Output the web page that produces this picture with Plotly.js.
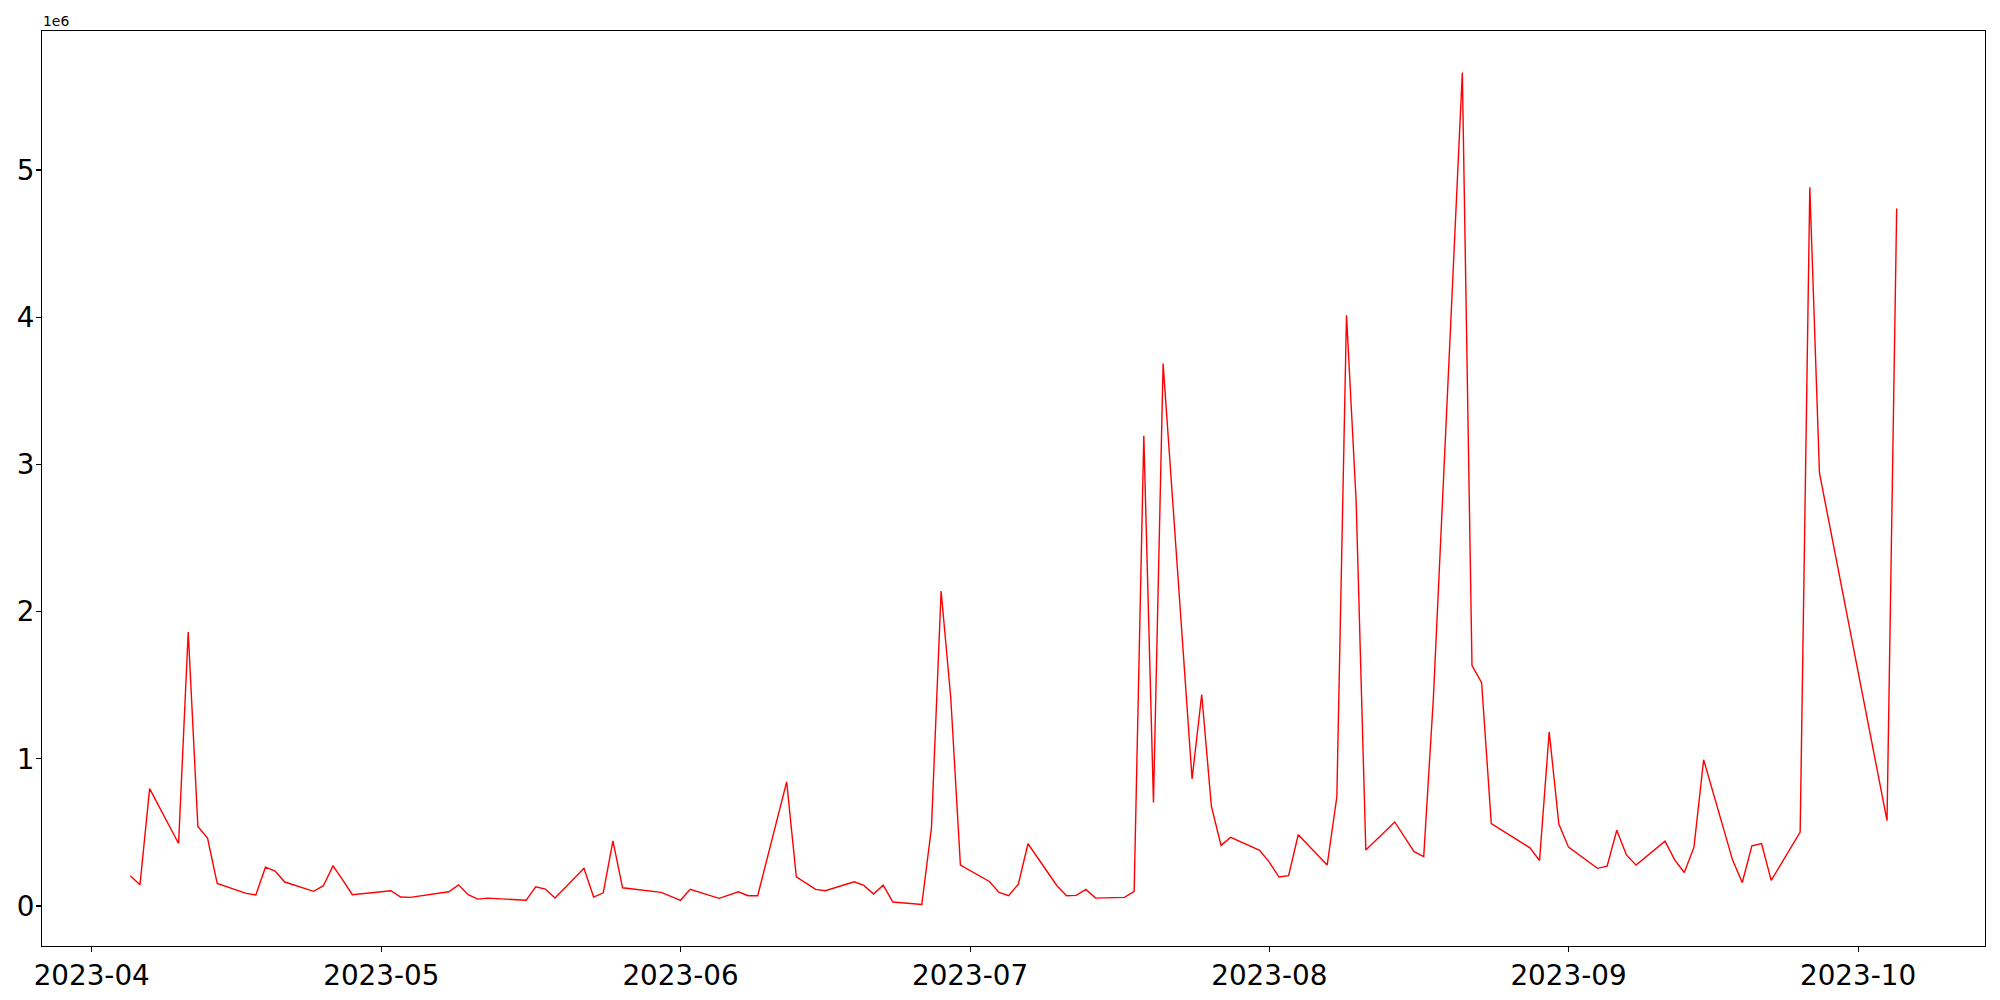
<!DOCTYPE html>
<html>
<head>
<meta charset="utf-8">
<script src="https://cdn.plot.ly/plotly-3.0.1.min.js"></script>
<style>html,body{margin:0;padding:0;background:#fff;}#chart{width:2000px;height:1000px;}</style>
</head>
<body>
<div id="chart"></div>
<script>
const dates = [
"2023-04-05","2023-04-06","2023-04-07","2023-04-10","2023-04-11","2023-04-12","2023-04-13","2023-04-14",
"2023-04-17","2023-04-18","2023-04-19","2023-04-20","2023-04-21","2023-04-24","2023-04-25","2023-04-26",
"2023-04-27","2023-04-28","2023-05-02","2023-05-03","2023-05-04","2023-05-08","2023-05-09","2023-05-10",
"2023-05-11","2023-05-12","2023-05-16","2023-05-17","2023-05-18","2023-05-19","2023-05-22","2023-05-23",
"2023-05-24","2023-05-25","2023-05-26","2023-05-30","2023-05-31","2023-06-01","2023-06-02","2023-06-05",
"2023-06-07","2023-06-08","2023-06-09","2023-06-12","2023-06-13","2023-06-15","2023-06-16","2023-06-19",
"2023-06-20","2023-06-21","2023-06-22","2023-06-23","2023-06-26","2023-06-27","2023-06-28","2023-06-29",
"2023-06-30","2023-07-03","2023-07-04","2023-07-05","2023-07-06","2023-07-07","2023-07-10","2023-07-11",
"2023-07-12","2023-07-13","2023-07-14","2023-07-17","2023-07-18","2023-07-19","2023-07-20","2023-07-21",
"2023-07-24","2023-07-25","2023-07-26","2023-07-27","2023-07-28","2023-07-31","2023-08-01","2023-08-02",
"2023-08-03","2023-08-04","2023-08-07","2023-08-08","2023-08-09","2023-08-10","2023-08-11","2023-08-14",
"2023-08-16","2023-08-17","2023-08-18","2023-08-21","2023-08-22","2023-08-23","2023-08-24","2023-08-28",
"2023-08-29","2023-08-30","2023-08-31","2023-09-01","2023-09-04","2023-09-05","2023-09-06","2023-09-07",
"2023-09-08","2023-09-11","2023-09-12","2023-09-13","2023-09-14","2023-09-15","2023-09-18","2023-09-19",
"2023-09-20","2023-09-21","2023-09-22","2023-09-25","2023-09-26","2023-09-27","2023-10-04","2023-10-05"
];
const values = [
205000,144000,798000,425000,1862000,540000,461000,154000,
86000,75000,264000,237000,163000,100000,138000,273000,
178000,77000,104000,61000,59000,97000,144000,77000,
47000,54000,39000,131000,115000,54000,256000,61000,
90000,443000,124000,93000,66000,39000,113000,52000,
97000,70000,70000,843000,199000,113000,104000,165000,
140000,81000,142000,27000,11000,532000,2140000,1415000,
278000,167000,93000,70000,149000,423000,138000,70000,
72000,113000,54000,59000,100000,3195000,703000,3685000,
864000,1437000,678000,412000,466000,378000,298000,197000,
206000,484000,279000,742000,4013000,2748000,381000,571000,
369000,336000,1412000,5662000,1634000,1517000,560000,395000,
309000,1184000,557000,400000,256000,270000,515000,347000,
278000,441000,314000,228000,400000,994000,312000,160000,
409000,425000,174000,502000,4883000,2942000,580000,4738000
];
const yTickVals = [0, 1000000, 2000000, 3000000, 4000000, 5000000];
const yTickText = ["0", "1", "2", "3", "4", "5"];
const offsetText = "1e6";

// matplotlib-like 5% margins
const t0 = new Date(dates[0] + "T00:00:00Z").getTime();
const t1 = new Date(dates[dates.length - 1] + "T00:00:00Z").getTime();
const dt = (t1 - t0) * 0.05;
const fmt = t => new Date(t).toISOString().replace("T", " ").slice(0, 19);
const vmin = Math.min(...values), vmax = Math.max(...values);
const dv = (vmax - vmin) * 0.05;

const font = "DejaVu Sans, Liberation Sans, sans-serif";
const trace = {
  x: dates, y: values, type: "scatter", mode: "lines",
  line: {color: "#ff0000", width: 1.4}, hoverinfo: "x+y"
};
const layout = {
  width: 2000, height: 1000,
  margin: {l: 42, r: 15, t: 31, b: 54, pad: 0},
  paper_bgcolor: "#ffffff", plot_bgcolor: "#ffffff",
  showlegend: false,
  font: {family: font, color: "#000000"},
  xaxis: {
    type: "date",
    range: [fmt(t0 - dt), fmt(t1 + dt)],
    tick0: "2023-04-01", dtick: "M1", tickformat: "%Y-%m",
    ticks: "outside", ticklen: 5, tickwidth: 1.1, tickcolor: "#000",
    showgrid: false, zeroline: false,
    showline: true, linecolor: "#000", linewidth: 1.1, mirror: true,
    tickfont: {size: 27.8, family: font, color: "#000"}
  },
  yaxis: {
    range: [vmin - dv, vmax + dv],
    tickmode: "array", tickvals: yTickVals, ticktext: yTickText,
    ticks: "outside", ticklen: 5, tickwidth: 1.1, tickcolor: "#000",
    ticklabelstandoff: -4,
    showgrid: false, zeroline: false,
    showline: true, linecolor: "#000", linewidth: 1.1, mirror: true,
    tickfont: {size: 27.8, family: font, color: "#000"}
  },
  annotations: [{
    text: offsetText, xref: "paper", yref: "paper", x: 0, y: 1,
    xanchor: "left", yanchor: "bottom", showarrow: false,
    font: {size: 13.9, family: font, color: "#000"}, xshift: -1, yshift: 0
  }]
};
Plotly.newPlot("chart", [trace], layout, {displayModeBar: false, staticPlot: true});
</script>
</body>
</html>
